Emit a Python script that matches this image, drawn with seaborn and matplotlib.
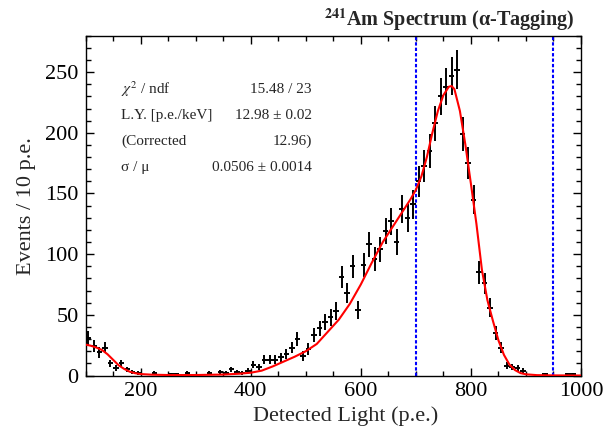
import numpy as np
import pandas as pd
import matplotlib
matplotlib.use("Agg")
import matplotlib.pyplot as plt
import seaborn as sns

# bin centres (10 p.e. bins) and counts, empty bins left out
bin_centres = [105, 115, 125, 135, 145, 155, 165, 175, 185, 195,
               225, 255, 265, 285, 325, 345, 355, 365, 375, 385, 395,
               405, 415, 425, 435, 445, 455, 465, 475, 485, 495,
               505, 515, 525, 535, 545, 555, 565, 575, 585, 595,
               605, 615, 625, 635, 645, 655, 665, 675, 685, 695,
               705, 715, 725, 735, 745, 755, 765, 775, 785, 795,
               805, 815, 825, 835, 845, 855, 865, 875, 885, 895,
               935, 975, 985]
counts = [31, 24, 19, 23, 10, 6, 10, 5, 3, 2,
          2, 1, 1, 2, 2, 3, 2, 5, 3, 2, 4,
          9, 7, 13, 13, 13, 15, 18, 23, 30, 16,
          22, 33, 39, 44, 48, 53, 81, 68, 90, 54,
          91, 108, 96, 104, 119, 127, 110, 137, 130, 141,
          160, 173, 185, 208, 230, 238, 247, 252, 199, 175,
          145, 85, 76, 56, 35, 23, 8, 7, 6, 4,
          1, 1, 1]

# fit curve
fit_x = [100, 110, 120, 130, 140, 150, 160, 170, 180, 190, 200, 220, 250, 300,
         350, 380, 400, 420, 440, 460, 480, 500, 520, 540, 560, 580, 600, 620,
         640, 660, 680, 690, 700, 710, 720, 730, 740, 750, 760, 765, 770, 780,
         790, 800, 810, 820, 830, 840, 850, 860, 870, 880, 890, 900, 920, 950, 1000]
fit_y = [25.5, 24.5, 23, 21, 17.5, 13, 8.5, 5.5, 3.2, 1.9, 1.2, 0.7, 0.4, 0.4,
         0.8, 1.5, 2.3, 4, 7.5, 11.5, 15.5, 20, 26, 36, 46, 59, 75, 93,
         110, 124, 138, 145, 153, 164, 180, 200, 218, 231, 238, 238.5, 236, 218,
         190, 158, 125, 87, 62, 45, 29, 17, 9, 4.5, 2, 1, 0.3, 0.1, 0]

cut_lines = [700, 950]

stat_names = [r"$\chi^{2}$ / ndf", "L.Y. [p.e./keV]", "(Corrected", "σ / μ"]
stat_values = ["15.48 / 23", "12.98 ± 0.02", "12.96)", "0.0506 ± 0.0014"]

sns.set_theme(style="ticks")
plt.rcParams['font.family'] = ['Liberation Serif', 'DejaVu Serif']
plt.rcParams['mathtext.fontset'] = 'stix'

fig = plt.figure(figsize=(6.1, 4.37), dpi=100)
ax = fig.add_axes([0.1402, 0.1407, 0.8123, 0.7776])

# histogram points with sqrt(N) errors
cnt = np.array(counts, dtype=float)
ax.errorbar(bin_centres, cnt, xerr=5, yerr=np.sqrt(cnt), fmt='none',
            ecolor='black', elinewidth=1.4, capsize=0, zorder=3)

# fit
df_fit = pd.DataFrame({'x': fit_x, 'y': fit_y})
sns.lineplot(data=df_fit, x='x', y='y', color='red', linewidth=1.5, ax=ax, zorder=4)

for xc in cut_lines:
    ax.axvline(xc, color='blue', linestyle=(0, (1.6, 1.0)), linewidth=1.5, zorder=2)

ax.set_xlim(100, 1000)
ax.set_ylim(0, 280)
ax.set_xticks([200, 400, 600, 800, 1000])
ax.set_xticks(np.arange(100, 1001, 50), minor=True)
ax.set_yticks(np.arange(0, 251, 50))
ax.set_yticks(np.arange(0, 281, 10), minor=True)
ax.tick_params(which='both', direction='in', top=True, right=True, colors='black',
               labelsize=16, width=1.0)
ax.tick_params(which='major', length=6, pad=5)
ax.tick_params(which='minor', length=3.5)
for s in ax.spines.values():
    s.set_linewidth(1.0)
    s.set_color('black')

ax.set_xlabel("Detected Light (p.e.)", fontsize=16)
ax.set_ylabel("Events / 10 p.e.", fontsize=16)
ax.xaxis.set_label_coords(0.524, -0.09)
ax.yaxis.set_label_coords(-0.1, 0.5)

# title top right
fig.text(0.941, 0.94, r"$^{\mathbf{241}}$Am Spectrum (α-Tagging)",
         ha='right', va='baseline', fontsize=14.5, fontweight='bold')

# fit results
rows_y = [0.842, 0.765, 0.690, 0.611]
for name, val, yy in zip(stat_names, stat_values, rows_y):
    ax.text(0.0716, yy, name, transform=ax.transAxes, ha='left', va='center', fontsize=11)
    ax.text(0.457, yy, val, transform=ax.transAxes, ha='right', va='center', fontsize=11)

fig.savefig("out.png", dpi=100)
